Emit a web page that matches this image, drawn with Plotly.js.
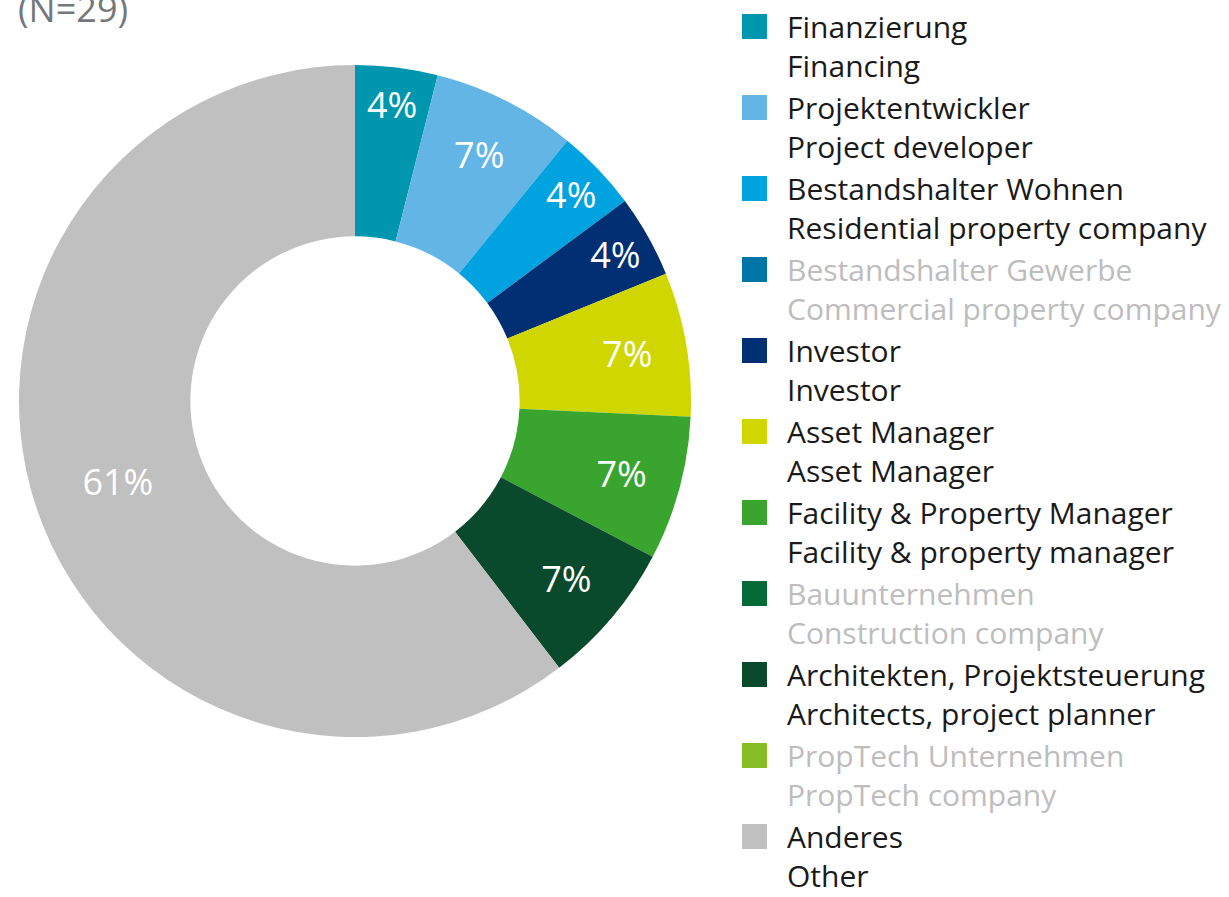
<!DOCTYPE html>
<html>
<head>
<meta charset="utf-8">
<script src="https://cdn.plot.ly/plotly-3.0.1.min.js"></script>
<style>html,body{margin:0;padding:0;background:#fff;}#chart{width:1229px;height:897px;}</style>
</head>
<body>
<div id="chart"></div>
<script>
// Categories (German / English)
const categoriesDE = ["Finanzierung","Projektentwickler","Bestandshalter Wohnen","Bestandshalter Gewerbe","Investor","Asset Manager","Facility & Property Manager","Bauunternehmen","Architekten, Projektsteuerung","PropTech Unternehmen","Anderes"];
const categoriesEN = ["Financing","Project developer","Residential property company","Commercial property company","Investor","Asset Manager","Facility & property manager","Construction company","Architects, project planner","PropTech company","Other"];
// Share of respondents in percent (N=29)
const shares = [4, 7, 4, 0, 4, 7, 7, 0, 7, 0, 61];
const colors = ["#0097AE","#62B5E5","#00A3E0","#0076A8","#012F73","#CFD600","#39A52F","#046A38","#0A4A2C","#86BC25","#BFC0BF"];
const subtitle = "(N=29)";

const labels = categoriesDE.map((de, i) => {
  const t = de + "<br>" + categoriesEN[i];
  return shares[i] === 0 ? '<span style="color:#BDBDBD">' + de + '</span><br><span style="color:#BDBDBD">' + categoriesEN[i] + '</span>' : t;
});
const texts = shares.map(v => v > 0 ? v + "%" : "");

const trace = {
  type: "pie",
  labels: labels,
  values: shares,
  text: texts,
  textinfo: "text",
  hoverinfo: "label+text",
  textposition: "inside",
  insidetextorientation: "horizontal",
  insidetextfont: {family: "Open Sans, sans-serif", size: 36, color: "#ffffff"},
  hole: 0.49,
  sort: false,
  direction: "clockwise",
  rotation: 0,
  marker: {colors: colors, line: {width: 0}},
  domain: {x: [18/1229, 692/1229], y: [1 - 737/897, 1 - 65/897]}
};

const layout = {
  width: 1229,
  height: 897,
  margin: {l: 0, r: 0, t: 0, b: 0},
  paper_bgcolor: "#ffffff",
  showlegend: true,
  legend: {
    x: 728/1229, xanchor: "left",
    y: 1.0, yanchor: "top",
    font: {family: "Open Sans, sans-serif", size: 30, color: "#1A1A1A"},
    itemwidth: 49,
    maxheight: 897,
    bgcolor: "rgba(0,0,0,0)",
    traceorder: "normal"
  },
  annotations: [{
    text: subtitle, xref: "paper", yref: "paper",
    x: 16/1229, xanchor: "left", y: 1 - 9/897, yanchor: "middle",
    showarrow: false,
    font: {family: "Open Sans, sans-serif", size: 36, color: "#75787B"}
  }]
};

Plotly.newPlot("chart", [trace], layout, {displayModeBar: false, staticPlot: true}).then(() => {
  // larger square swatches aligned with the first text line
  document.querySelectorAll("#chart .legendpoints path").forEach(p => {
    p.setAttribute("d", "M9.5,-6.5H-15.5V-31.5H9.5Z");
  });
});
</script>
</body>
</html>
